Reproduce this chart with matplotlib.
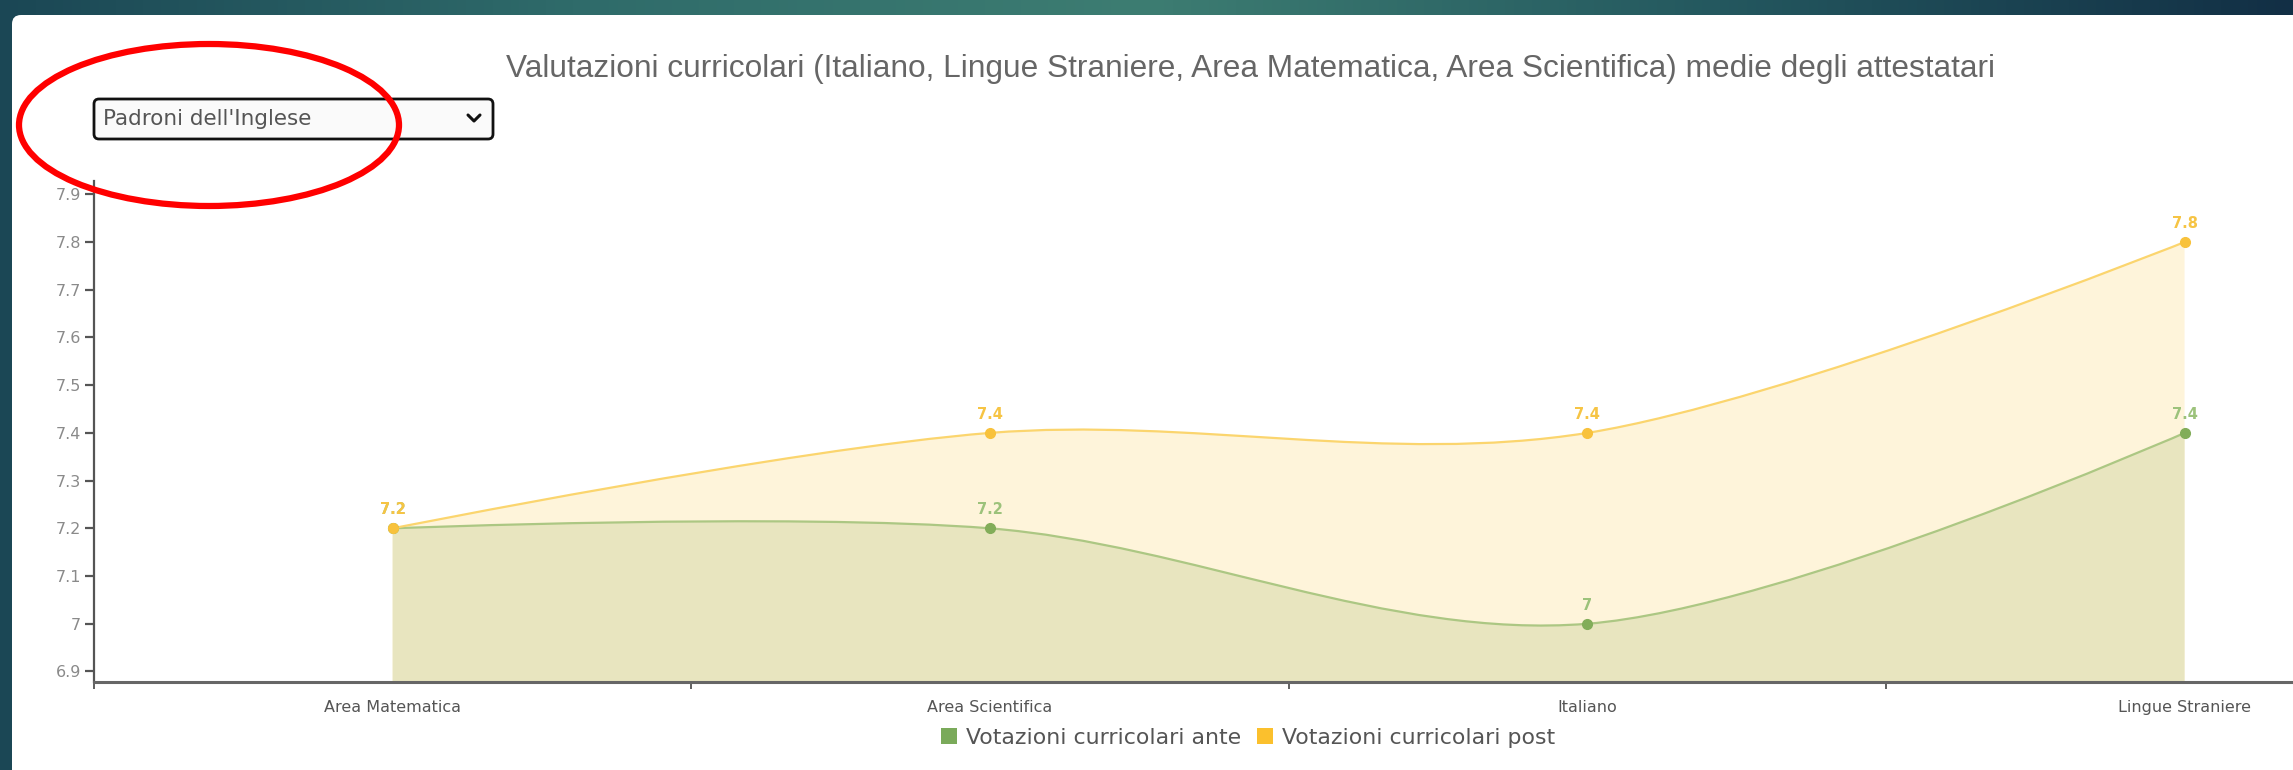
import numpy as np
import matplotlib
matplotlib.use("Agg")
import matplotlib.pyplot as plt
from matplotlib.path import Path
from matplotlib.patches import PathPatch, FancyBboxPatch, Ellipse, Patch
from matplotlib.colors import LinearSegmentedColormap
from matplotlib.lines import Line2D
from matplotlib.ticker import FixedLocator, FuncFormatter

# data
categories = ["Area Matematica", "Area Scientifica", "Italiano", "Lingue Straniere"]
voti_ante = [7.2, 7.2, 7.0, 7.4]
voti_post = [7.2, 7.4, 7.4, 7.8]
series_names = ["Votazioni curricolari ante", "Votazioni curricolari post"]
y_ticks = [6.9, 7.0, 7.1, 7.2, 7.3, 7.4, 7.5, 7.6, 7.7, 7.8, 7.9]
title = ("Valutazioni curricolari (Italiano, Lingue Straniere, Area Matematica, "
         "Area Scientifica) medie degli attestatari")
dropdown_text = "Padroni dell'Inglese"

W, H = 2293, 770
fig = plt.figure(figsize=(W / 100, H / 100), dpi=100)


def px(x, y):
    # pixel position (top-left origin) -> inches for fig.dpi_scale_trans
    return x / 100, (H - y) / 100


# dark teal page background
bg = fig.add_axes([0, 0, 1, 1], zorder=-10)
bg_cmap = LinearSegmentedColormap.from_list(
    "bg", ["#1b4755", "#2f6b6a", "#3d7d72", "#24585f", "#122f45"])
bg.imshow(np.linspace(0, 1, 256)[None, :], aspect="auto", cmap=bg_cmap,
          extent=[0, 1, 0, 1])
bg.set_axis_off()

# white card
card = FancyBboxPatch(px(12, 800), 2400 / 100, 785 / 100,
                      boxstyle="round,pad=0,rounding_size=0.09",
                      transform=fig.dpi_scale_trans, facecolor="white",
                      edgecolor="none", zorder=-5)
fig.patches.append(card)

# main axes
band = 597.3
x_left, x_axis_y, y_top = 94, 681.5, 181
ax = fig.add_axes([x_left / W, 1 - x_axis_y / H, 1 - x_left / W, (x_axis_y - y_top) / H])
ax.set_facecolor("none")
ax.set_xlim(-0.5, -0.5 + (W - x_left) / band)
ax.set_ylim(6.879, 7.928)

xs = np.arange(len(categories))


def cardinal_path(xv, yv, base=None, k=1 / 6):
    pts = np.column_stack([xv, yv]).astype(float)
    n = len(pts)
    verts = [pts[0]]
    codes = [Path.MOVETO]
    for i in range(n - 1):
        prev = pts[i - 1] if i > 0 else pts[i + 1]
        nxt = pts[i + 2] if i + 2 < n else pts[i]
        c1 = pts[i] + k * (pts[i + 1] - prev)
        c2 = pts[i + 1] + k * (pts[i] - nxt)
        verts += [c1, c2, pts[i + 1]]
        codes += [Path.CURVE4] * 3
    if base is not None:
        verts += [(pts[-1][0], base), (pts[0][0], base), pts[0]]
        codes += [Path.LINETO, Path.LINETO, Path.CLOSEPOLY]
    return Path(verts, codes)


base = ax.get_ylim()[0]
ax.add_patch(PathPatch(cardinal_path(xs, voti_post, base), facecolor="#fef4da",
                       edgecolor="none", zorder=1))
ax.add_patch(PathPatch(cardinal_path(xs, voti_ante, base), facecolor="#e8e5bf",
                       edgecolor="none", zorder=2))
ax.add_patch(PathPatch(cardinal_path(xs, voti_ante), facecolor="none",
                       edgecolor="#acc783", linewidth=1.6, zorder=3))
ax.add_patch(PathPatch(cardinal_path(xs, voti_post), facecolor="none",
                       edgecolor="#fbd56e", linewidth=1.6, zorder=4))

ax.plot(xs, voti_ante, "o", color="#82ad59", markersize=7, zorder=5, clip_on=False)
ax.plot(xs, voti_post, "o", color="#f8c23c", markersize=7, zorder=6, clip_on=False)

for x, v in zip(xs, voti_ante):
    ax.annotate(f"{v:g}", (x, v), xytext=(0, 8), textcoords="offset points",
                ha="center", va="bottom", fontsize=10.5, fontweight="bold",
                color="#9cc27b", zorder=7)
for x, v in zip(xs, voti_post):
    ax.annotate(f"{v:g}", (x, v), xytext=(0, 8), textcoords="offset points",
                ha="center", va="bottom", fontsize=10.5, fontweight="bold",
                color="#f6c444", zorder=8)

# axes styling
for side in ["top", "right"]:
    ax.spines[side].set_visible(False)
ax.spines["left"].set_color("#555555")
ax.spines["bottom"].set_color("#666666")
ax.spines["left"].set_linewidth(1.6)
ax.spines["bottom"].set_linewidth(2.2)
ax.spines["left"].set_zorder(10)
ax.spines["bottom"].set_zorder(10)

ax.yaxis.set_major_locator(FixedLocator(y_ticks))
ax.yaxis.set_major_formatter(FuncFormatter(lambda v, p: f"{v:g}"))
ax.tick_params(axis="y", length=6.5, width=1.6, color="#555555", labelsize=11.5,
               labelcolor="#8a8a8a", pad=3)

ax.xaxis.set_major_locator(FixedLocator(np.arange(len(categories) + 1) - 0.5))
ax.xaxis.set_major_formatter(FuncFormatter(lambda v, p: ""))
ax.xaxis.set_minor_locator(FixedLocator(xs))
ax.set_xticklabels(categories, minor=True)
ax.tick_params(axis="x", which="major", length=5, width=1.2, color="#444444")
ax.tick_params(axis="x", which="minor", length=0, labelsize=11.5,
               labelcolor="#555555", pad=13)

# title
fig.text(1251 / W, 1 - 69 / H, title, ha="center", va="center",
         fontsize=22.8, color="#666666", family="Liberation Sans")

# legend
handles = [Patch(facecolor="#7aaa5a", edgecolor="none"),
           Patch(facecolor="#fbc02d", edgecolor="none")]
fig.legend(handles, series_names, loc="center", bbox_to_anchor=(1248 / W, 1 - 738 / H),
           ncol=2, frameon=False, fontsize=15.8, handlelength=0.75, handleheight=0.75,
           handletextpad=0.4, columnspacing=0.7, labelcolor="#555555")

# dropdown
dd = FancyBboxPatch(px(94, 139), 399 / 100, 40 / 100,
                    boxstyle="round,pad=0,rounding_size=0.05",
                    transform=fig.dpi_scale_trans, facecolor="#fafafa",
                    edgecolor="#111111", linewidth=2, zorder=5)
fig.patches.append(dd)
tx, ty = px(103, 119)
fig.text(tx, ty, dropdown_text, transform=fig.dpi_scale_trans, ha="left",
         va="center", fontsize=15.5, color="#555555", zorder=6)
cx = [px(468, 115)[0], px(474, 121)[0], px(480, 115)[0]]
cy = [px(468, 115)[1], px(474, 121)[1], px(480, 115)[1]]
fig.lines.append(Line2D(cx, cy, transform=fig.dpi_scale_trans, color="#111111",
                        linewidth=2.2, solid_capstyle="round", zorder=6))

# red annotation ellipse
ex, ey = px(209, 125)
fig.patches.append(Ellipse((ex, ey), 380 / 100, 162 / 100,
                           transform=fig.dpi_scale_trans, facecolor="none",
                           edgecolor="#ff0000", linewidth=4.5, zorder=7))

fig.savefig("out.png", dpi=100)
